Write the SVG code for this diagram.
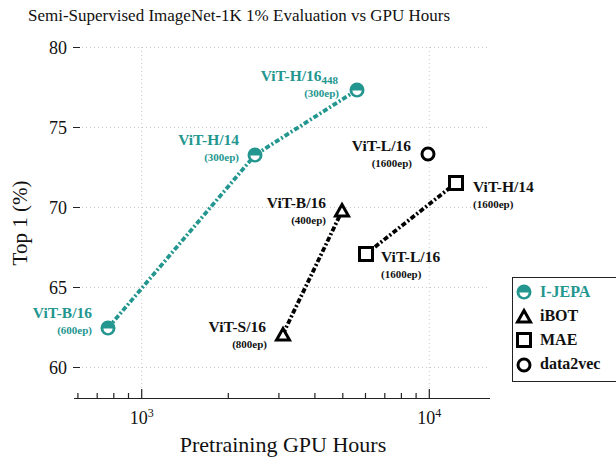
<svg xmlns="http://www.w3.org/2000/svg" width="616" height="459" viewBox="0 0 616 459">
<style>
text{font-family:"Liberation Serif","DejaVu Serif",serif;fill:#111}
.tick{font-size:18px}
.grid{stroke:#c8c8c8;stroke-width:1;stroke-dasharray:1 3;fill:none}
.ax{stroke:#222;stroke-width:1.2;fill:none}
.lab{font-size:15.5px;font-weight:bold}
.ep{font-size:11px;font-weight:bold}
.ln{fill:none;stroke-width:3.8;stroke-dasharray:5 2.2 2 2.2}
.leg{font-size:16px;font-weight:bold}
</style>
<rect width="616" height="459" fill="#fff"/>
<text x="28" y="21" font-size="17">Semi-Supervised ImageNet-1K 1% Evaluation vs GPU Hours</text>
<g id="grid">
<path class="grid" d="M82 47.5H490M82 127.5H490M82 207.5H490M82 287.5H490M82 367.5H490M141.7 47V398M429.3 47V398"/>
</g>
<g id="axes">
<path class="ax" d="M74 398.5H490"/>
<path class="ax" d="M73 47.5H80M73 127.5H80M73 207.5H80M73 287.5H80M73 367.5H80"/>
<path class="ax" d="M141.7 398V389M429.3 398V389M77.9 398V393M97.2 398V393M113.8 398V393M128.5 398V393M228.3 398V393M278.9 398V393M314.9 398V393M342.8 398V393M365.5 398V393M384.8 398V393M401.4 398V393M416.1 398V393"/>
<text class="tick" x="67" y="54" text-anchor="end">80</text>
<text class="tick" x="67" y="134" text-anchor="end">75</text>
<text class="tick" x="67" y="214" text-anchor="end">70</text>
<text class="tick" x="67" y="294" text-anchor="end">65</text>
<text class="tick" x="67" y="374" text-anchor="end">60</text>
<text class="tick" x="141.7" y="424" text-anchor="middle">10<tspan font-size="12" dy="-7">3</tspan></text>
<text class="tick" x="429.3" y="424" text-anchor="middle">10<tspan font-size="12" dy="-7">4</tspan></text>
<text x="283" y="452" font-size="22" text-anchor="middle">Pretraining GPU Hours</text>
<text x="0" y="0" font-size="21" text-anchor="middle" transform="translate(27 223) rotate(-90)">Top 1 (%)</text>
</g>
<g id="connectors">
<polyline class="ln" stroke="#23968f" points="108,328 255,155 357,90"/>
<polyline class="ln" stroke="#000" points="283,334 342,211"/>
<polyline class="ln" stroke="#000" points="366,254 456,183"/>
</g>
<defs>
<g id="ij"><circle r="7.5" fill="#23968f"/><path d="M-4.6 0.6A4.6 4.6 0 0 0 4.6 0.6Z" fill="#fff"/></g>
<path id="tri" d="M0 -6.5L6.5 5L-6.5 5Z" fill="#fff" stroke="#000" stroke-width="3" stroke-linejoin="miter"/>
<rect id="sq" x="-6.5" y="-6.5" width="13" height="13" fill="#fff" stroke="#000" stroke-width="3"/>
<circle id="ci" r="6" fill="#fff" stroke="#000" stroke-width="3"/>
</defs>
<g id="ijepa-h16"><use href="#ij" x="357" y="90"/>
<text class="lab" x="338" y="81" text-anchor="end" style="fill:#23968f">ViT-H/16<tspan font-size="11" dy="3">448</tspan></text>
<text class="ep" x="339" y="97" text-anchor="end" style="fill:#23968f">(300ep)</text></g>
<g id="ijepa-h14"><use href="#ij" x="255" y="155"/>
<text class="lab" x="239" y="145" text-anchor="end" style="fill:#23968f">ViT-H/14</text>
<text class="ep" x="239" y="161" text-anchor="end" style="fill:#23968f">(300ep)</text></g>
<g id="ijepa-b16"><use href="#ij" x="108" y="328"/>
<text class="lab" x="92" y="318" text-anchor="end" style="fill:#23968f">ViT-B/16</text>
<text class="ep" x="92" y="334" text-anchor="end" style="fill:#23968f">(600ep)</text></g>
<g id="ibot-s16"><use href="#tri" x="283" y="335"/>
<text class="lab" x="266" y="332" text-anchor="end">ViT-S/16</text>
<text class="ep" x="267" y="348" text-anchor="end">(800ep)</text></g>
<g id="ibot-b16"><use href="#tri" x="342" y="211"/>
<text class="lab" x="326" y="208" text-anchor="end">ViT-B/16</text>
<text class="ep" x="326" y="224" text-anchor="end">(400ep)</text></g>
<g id="mae-l16"><use href="#sq" x="366" y="254"/>
<text class="lab" x="381" y="262">ViT-L/16</text>
<text class="ep" x="381" y="278">(1600ep)</text></g>
<g id="mae-h14"><use href="#sq" x="456" y="183"/>
<text class="lab" x="473" y="192">ViT-H/14</text>
<text class="ep" x="473" y="208">(1600ep)</text></g>
<g id="d2v-l16"><use href="#ci" x="428" y="154"/>
<text class="lab" x="411" y="151" text-anchor="end">ViT-L/16</text>
<text class="ep" x="412" y="167" text-anchor="end">(1600ep)</text></g>
<g id="legend">
<rect x="512.5" y="277.5" width="110" height="104" fill="#fff" stroke="#222" stroke-width="1"/>
<use href="#ij" x="524" y="292"/>
<text class="leg" x="540" y="297" style="fill:#23968f">I-JEPA</text>
<use href="#tri" x="524" y="317"/>
<text class="leg" x="540" y="321">iBOT</text>
<use href="#sq" x="524" y="340"/>
<text class="leg" x="540" y="345">MAE</text>
<use href="#ci" x="524" y="365"/>
<text class="leg" x="540" y="369">data2vec</text>
</g>
</svg>
